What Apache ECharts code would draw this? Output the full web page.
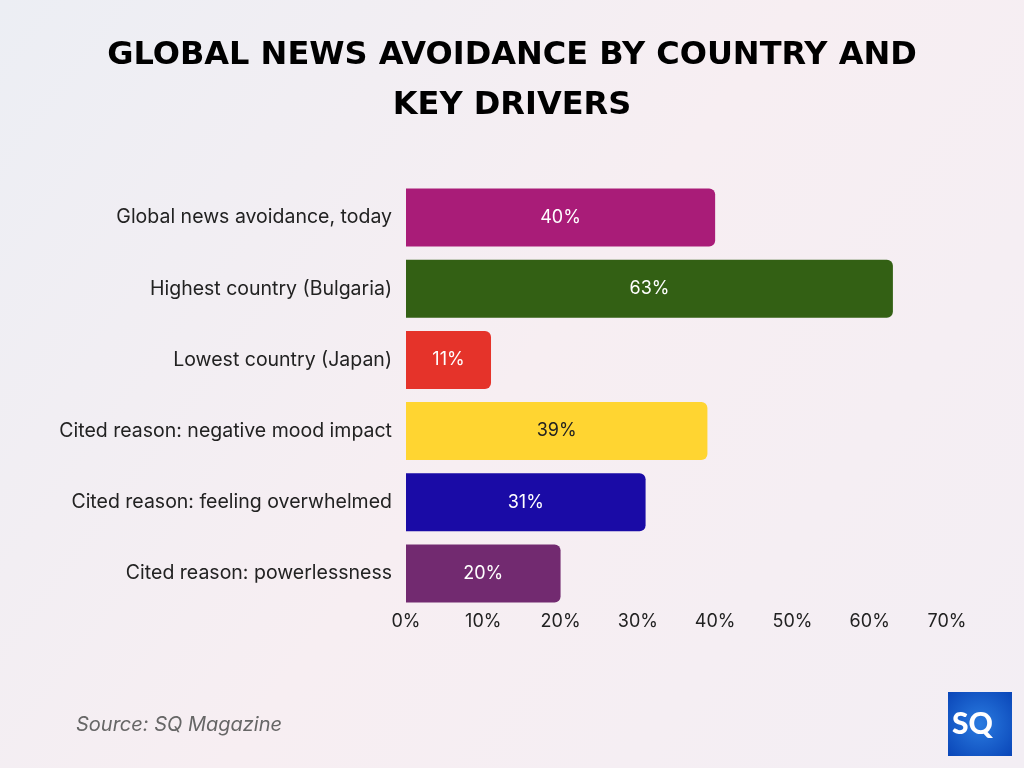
<!DOCTYPE html>
<html>
<head>
<meta charset="utf-8">
<script src="https://cdn.jsdelivr.net/npm/echarts@6/dist/echarts.min.js"></script>
<style>
  html, body { margin: 0; padding: 0; }
  #chart { width: 1024px; height: 768px; }
</style>
</head>
<body>
<div id="chart"></div>
<script>
// chart data
const categories = [
  'Global news avoidance, today',
  'Highest country (Bulgaria)',
  'Lowest country (Japan)',
  'Cited reason: negative mood impact',
  'Cited reason: feeling overwhelmed',
  'Cited reason: powerlessness'
];
const values = [40, 63, 11, 39, 31, 20];
const barColors = ['#A91C78', '#336014', '#E5332A', '#FFD531', '#1A0BA6', '#722A70'];
const labelColors = ['#ffffff', '#ffffff', '#ffffff', '#222222', '#ffffff', '#ffffff'];

const chart = echarts.init(document.getElementById('chart'));

const option = {
  backgroundColor: {
    type: 'linear', x: 0, y: 0, x2: 1, y2: 1,
    colorStops: [
      { offset: 0, color: '#ECEEF4' },
      { offset: 0.5, color: '#F7EEF2' },
      { offset: 1, color: '#F3EEF4' }
    ]
  },
  title: {
    text: 'GLOBAL NEWS AVOIDANCE BY COUNTRY AND\nKEY DRIVERS',
    left: 'center',
    top: 26,
    textStyle: {
      fontFamily: 'DejaVu Sans',
      fontWeight: 'bold',
      fontSize: 32,
      lineHeight: 50,
      color: '#000000'
    }
  },
  grid: { left: 406, right: 77, top: 182, height: 427 },
  xAxis: {
    type: 'value',
    min: 0,
    max: 70,
    interval: 10,
    splitLine: { show: false },
    axisLine: { show: false },
    axisTick: { show: false },
    axisLabel: {
      formatter: '{value}%',
      fontFamily: 'Inter',
      fontSize: 18,
      color: '#222222',
      margin: 4
    }
  },
  yAxis: {
    type: 'category',
    inverse: true,
    data: categories,
    axisLine: { show: false },
    axisTick: { show: false },
    axisLabel: {
      fontFamily: 'Inter',
      fontSize: 19.5,
      color: '#222222',
      margin: 14
    }
  },
  series: [{
    type: 'bar',
    barWidth: 58,
    data: values.map((v, i) => ({
      value: v,
      itemStyle: { color: barColors[i], borderRadius: [0, 6, 6, 0] },
      label: { color: labelColors[i] }
    })),
    label: {
      show: true,
      position: 'inside',
      formatter: '{c}%',
      fontFamily: 'Inter',
      fontSize: 18
    }
  }],
  graphic: [
    {
      type: 'text',
      left: 76,
      top: 715,
      style: {
        text: 'Source: SQ Magazine',
        fontFamily: 'Inter',
        fontStyle: 'italic',
        fontSize: 20,
        fill: '#666666'
      }
    },
    {
      type: 'rect',
      left: 948,
      top: 692,
      shape: { width: 64, height: 64 },
      style: {
        fill: {
          type: 'radial', x: 0.5, y: 0.5, r: 0.7,
          colorStops: [
            { offset: 0, color: '#2A7BE0' },
            { offset: 1, color: '#0A46B8' }
          ]
        }
      }
    },
    {
      type: 'text',
      left: 952,
      top: 709,
      style: {
        text: 'SQ',
        fontFamily: 'Lato',
        fontWeight: 900,
        fontSize: 30,
        fill: '#ffffff'
      }
    }
  ]
};

chart.setOption(option);
</script>
</body>
</html>
